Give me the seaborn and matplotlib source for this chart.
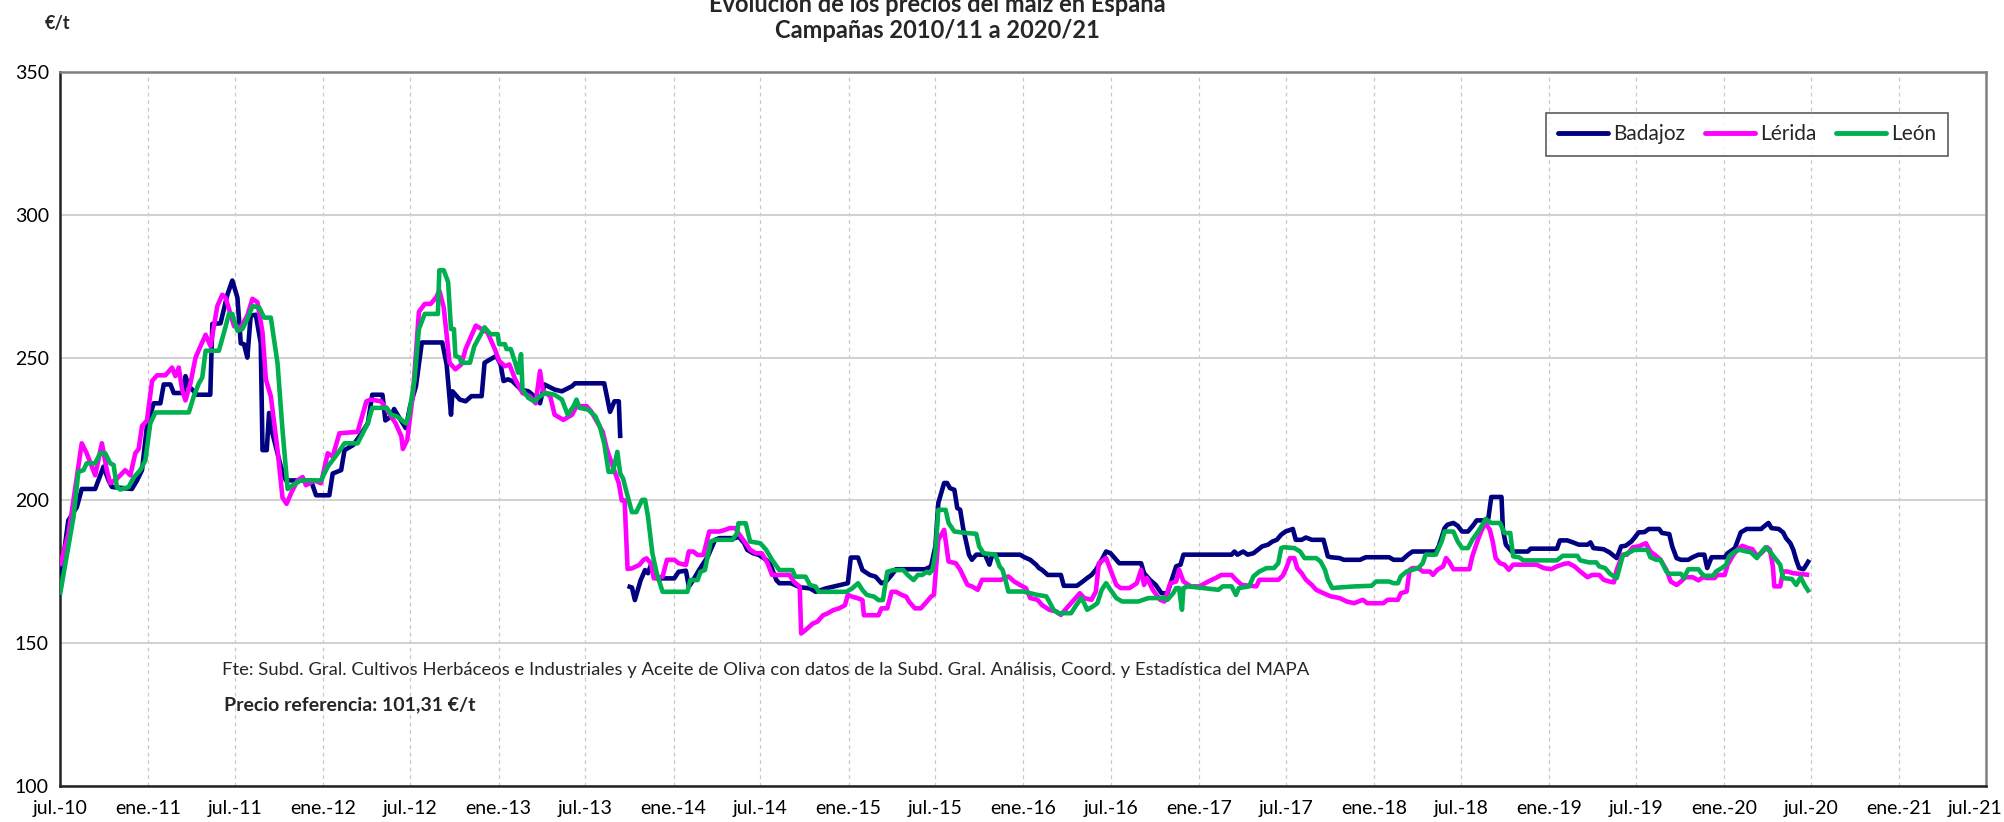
import numpy as np
import pandas as pd
import matplotlib
matplotlib.use("Agg")
import matplotlib.pyplot as plt
import matplotlib.transforms as mtransforms
import seaborn as sns

# ── DATOS ─────────────────────────────────────────────────────────────────────
# meses transcurridos desde jul.-2010 y precio en €/t; NaN = hueco en la serie
BADAJOZ_MES = [
    0.0, 0.23, 0.57, 1.15, 1.49, 2.41, 2.98, 3.33, 3.56, 4.93, 5.28, 5.62, 5.96, 6.42, 6.88,
    7.11, 7.57, 7.8, 8.49, 8.6, 8.83, 9.4, 10.3, 10.44, 11.0, 11.47, 11.81, 12.16, 12.39,
    12.61, 12.84, 13.07, 13.42, 13.76, 13.88, 14.17, 14.33, 14.56, 15.14, 15.48, 17.2, 17.55,
    18.46, 18.69, 19.27, 19.5, 20.1, 20.6, 21.1, 21.4, 22.1, 22.3, 22.7, 22.9, 23.2, 23.7,
    24.0, 24.4, 24.8, 26.2, 26.5, 26.8, 26.9, 27.4, 27.8, 28.2, 28.9, 29.1, 29.5, 29.9, 30.2,
    30.4, 30.7, 31.0, 31.6, 32.1, 32.5, 32.9, 33.2, 33.9, 34.4, 35.1, 35.3, 37.3, 37.7, 38.0,
    38.3, 38.4, 38.6, 38.9, 39.2, 39.4, 39.8, 40.1, 40.3, 40.5, 40.9, 42.1, 42.4, 42.9, 43.1,
    43.4, 43.8, 44.1, 44.4, 44.6, 44.9, 45.2, 46.3, 46.5, 46.9, 47.1, 47.5, 47.9, 48.4, 48.7,
    49.1, 49.3, 50.1, 50.7, 51.4, 51.8, 52.5, 53.0, 53.5, 54.0, 54.2, 54.7, 55.0, 55.5, 55.9,
    56.3, 56.6, 57.0, 57.3, 59.3, 59.7, 60.0, 60.2, 60.6, 60.8, 61.0, 61.3, 61.5, 61.7, 61.9,
    62.3, 62.5, 62.8, 63.4, 63.7, 63.9, 65.8, 66.1, 66.5, 66.9, 67.1, 67.3, 67.7, 68.6, 68.8,
    69.7, 70.1, 70.4, 70.7, 71.0, 71.4, 71.7, 72.0, 72.4, 72.6, 74.1, 74.3, 74.7, 75.1, 75.5,
    75.9, 76.2, 76.5, 76.8, 77.0, 80.3, 80.5, 80.7, 81.1, 81.4, 81.8, 82.1, 82.4, 82.8, 83.1,
    83.4, 83.7, 84.0, 84.5, 84.7, 85.1, 85.4, 85.8, 86.6, 86.9, 87.1, 87.7, 88.0, 89.1, 89.5,
    91.1, 91.4, 92.0, 92.4, 92.7, 94.3, 94.5, 94.9, 95.1, 95.5, 95.8, 96.1, 96.5, 96.8, 97.1,
    97.6, 97.9, 98.1, 98.8, 98.9, 99.1, 99.5, 100.6, 100.8, 102.6, 102.8, 103.3, 103.7, 104.1,
    104.7, 104.9, 105.1, 105.8, 106.2, 106.5, 106.7, 107.0, 107.3, 107.7, 107.9, 108.2, 108.6,
    108.9, 109.6, 109.8, 110.3, 110.5, 110.8, 111.1, 111.6, 111.9, 112.3, 112.7, 112.9, 113.2,
    114.1, 114.3, 114.8, 115.2, 115.6, 116.6, 116.8, 117.1, 117.3, 117.8, 118.1, 118.3, 118.6,
    118.8, 119.0, 119.2, 119.5, 119.7, 119.9,
]
BADAJOZ_EUR = [
    174, 180, 193, 197.6, 204, 204, 211.8, 207, 204.7, 204, 207, 210.6, 226, 234, 234,
    240.6, 240.6, 237.6, 237.6, 243.5, 240, 237, 237, 261.8, 262, 272, 277, 271, 255,
    254.7, 250, 264.7, 265, 255, 217.6, 217.6, 230.6, 223.5, 211.8, 207, 207, 201.8,
    201.8, 209.4, 210.6, 217.6, 219.4, 223, 227, 237, 237, 228, 229.4, 232, 229.4, 225.3,
    233, 240, 255.3, 255.3, 247.6, 230, 238.2, 235.3, 234.7, 236.5, 236.5, 248.2, 249.4, 250.6, 247.6,
    241.8, 242.4, 241.8, 238.8, 238.2, 236.5, 234, 240.6, 238.8, 238.2, 240, 241, 241, 231, 234.7,
    234.7, 221.8, np.nan, 170, 169.5, 165.1, 172.1, 175.6, 174.5, 177.4, 172.7, 172.7, 175, 175.4, 169.8,
    172.1, 175.6, 178, 180.3, 182.7, 186.2, 186.8, 186.8, 187.4, 185, 182.7, 181.5, 180.9, 179.2, 177.4,
    172.1, 171, 171, 169.6, 169.2, 168, 169.2, 169.8, 170.4, 171, 180, 180, 175.6, 173.9, 173.3,
    171, 171.5, 173.9, 175.9, 175.9, 176.9, 183.9, 199.1, 206.1, 206.1, 204.3, 203.7, 197.3, 196.7, 190.3,
    181, 179.2, 181, 181, 177.5, 181, 181, 180.1, 179.2, 177.5, 176.3, 175.7, 173.9, 173.9, 170.1,
    170.1, 171.6, 172.8, 173.9, 175.7, 179.2, 182.1, 181.5, 179.2, 178, 178, 174.5, 172.2, 170.4, 167.5,
    167.5, 172.2, 176.9, 177.5, 181, 181, 182.1, 181, 182.1, 181, 181.5, 182.7, 183.9, 184.5, 185.6,
    186.2, 188, 189.1, 190, 186.2, 186.2, 187, 186.2, 186.2, 180.4, 180.1, 179.8, 179.2, 179.2, 180.1,
    180.1, 179.2, 179.2, 181, 182.1, 182.1, 183.9, 190.3, 191.5, 192.1, 191.1, 189.1, 189.1, 190.9, 193,
    193, 193.8, 201.2, 201.2, 189.7, 184.5, 182.1, 182.1, 183.1, 183.1, 186, 186, 185.3, 184.5,
    184.5, 185.3, 183.3, 182.9, 181.8, 180.6, 179.8, 183.9, 184.1, 185.6, 186.8, 188.8, 188.9,
    190, 190, 188.6, 188.2, 183.9, 179.8, 179.2, 179.2, 180.1, 181, 181, 176.3, 180.1,
    180.1, 181.5, 183.3, 188.8, 190, 190, 190.9, 192.1, 190.3, 190, 188.8, 186.8, 185,
    182.7, 179.2, 176.3, 175.9, 177.5, 179.2,
]

LERIDA_MES = [
    0.0, 0.57, 0.92, 1.49, 1.83, 2.41, 2.87, 3.21, 3.44, 3.9, 4.47, 4.82, 5.16, 5.39, 5.62,
    5.96, 6.31, 6.65, 7.22, 7.68, 7.91, 8.14, 8.37, 8.6, 8.94, 9.29, 9.63, 9.98, 10.32, 10.78,
    11.12, 11.35, 11.93, 12.39, 12.84, 13.19, 13.53, 13.88, 14.11, 14.45, 14.91, 15.25, 15.53,
    15.83, 16.28, 16.63, 16.86, 17.43, 17.89, 18.35, 18.69, 19.15, 20.4, 21.0, 21.3, 22.0,
    22.4, 23.0, 23.4, 23.5, 23.8, 24.2, 24.6, 25.0, 25.4, 25.8, 26.0, 26.3, 26.7, 27.1, 27.5,
    27.8, 28.3, 28.5, 28.9, 29.3, 29.8, 30.1, 30.5, 30.8, 31.2, 31.7, 32.2, 32.6, 32.9, 33.1,
    33.6, 33.9, 34.5, 35.1, 35.4, 36.1, 36.4, 36.8, 37.2, 37.5, 37.9, 38.3, 38.5, 38.7, 38.9,
    39.2, 39.7, 40.0, 40.2, 40.5, 40.7, 41.3, 41.6, 42.1, 42.4, 42.9, 43.1, 43.4, 43.7, 44.1,
    44.5, 45.2, 45.6, 45.9, 46.3, 46.5, 47.0, 47.3, 47.7, 48.1, 48.5, 48.8, 50.0, 50.3, 50.7,
    50.8, 51.1, 51.6, 51.9, 52.3, 52.6, 53.0, 53.4, 53.8, 54.0, 54.3, 54.7, 55.0, 55.1, 56.1,
    56.3, 56.7, 57.0, 57.3, 57.7, 58.0, 58.2, 58.6, 59.0, 59.4, 59.7, 59.9, 60.2, 60.6, 60.9,
    61.4, 61.7, 62.2, 62.5, 62.9, 63.2, 64.5, 65.0, 65.4, 65.8, 66.2, 66.5, 67.0, 67.3, 67.8,
    68.3, 68.6, 68.9, 69.4, 69.9, 70.2, 70.7, 71.0, 71.2, 71.7, 72.0, 72.4, 72.7, 73.3, 73.8,
    74.1, 74.3, 74.5, 74.9, 75.4, 75.7, 76.1, 76.5, 76.7, 77.0, 77.5, 78.1, 78.7, 79.2, 79.6,
    80.3, 80.6, 81.0, 82.0, 82.2, 83.5, 83.8, 84.0, 84.3, 84.6, 84.8, 85.1, 85.4, 85.8, 86.1,
    86.6, 87.1, 87.7, 88.2, 88.7, 89.0, 89.3, 89.6, 90.7, 91.0, 91.7, 91.9, 92.3, 92.5, 92.7,
    93.1, 93.4, 93.9, 94.1, 94.4, 94.8, 95.0, 95.2, 95.5, 96.6, 96.8, 97.1, 97.4, 97.7, 98.0,
    98.2, 98.4, 98.7, 99.0, 99.3, 99.6, 101.2, 101.7, 102.2, 102.6, 103.1, 103.4, 103.8, 104.2,
    104.7, 105.0, 105.5, 105.8, 106.2, 106.5, 106.7, 107.1, 107.4, 107.8, 108.2, 108.7, 109.0,
    109.4, 109.7, 110.1, 110.4, 110.8, 111.1, 111.4, 111.9, 112.3, 112.6, 112.9, 113.4, 113.6,
    114.1, 114.3, 114.7, 115.0, 115.3, 115.7, 116.0, 116.3, 116.6, 117.0, 117.2, 117.4, 117.5,
    117.9, 118.1, 118.4, 118.8, 119.9,
]
LERIDA_EUR = [
    177, 188, 200, 220, 216.5, 208.8, 220, 210.6, 206, 207.6, 210.6, 208.8, 216.5, 218, 226,
    228, 241.8, 243.8, 243.8, 246.5, 243.5, 246.5, 238.8, 235, 241, 250, 254, 258, 254, 268,
    272, 271, 261, 260.6, 264.7, 270.6, 269.4, 258.8, 242.4, 236.5, 217.6, 201, 198.8,
    202.4, 207, 208.2, 205.3, 207, 206, 216.5, 215.3, 223.5, 224, 234.7, 235.3, 234.7,
    231.8, 227, 222.4, 218, 221.2, 237.6, 266, 268.8, 268.8, 271.2, 273.5, 267.6, 248.2, 245.9, 247.6,
    253, 258.8, 261.2, 260, 258.8, 253, 248.8, 247, 247.6, 242.4, 237.6, 236.5, 234, 245.3, 238.2,
    236.5, 230, 228.2, 230, 233, 233, 231.2, 227.6, 224, 217.6, 211.8, 206, 200, 200, 176,
    176.2, 177.4, 179.2, 179.7, 178, 172.7, 173.3, 179.2, 179.2, 178, 177.4, 182.1, 182.1, 180.9, 180.9,
    189.1, 189.1, 189.7, 190.3, 190.3, 188.5, 185, 182.7, 181.5, 181.5, 178, 173.9, 173.9, 171.5, 169.8,
    153.4, 154.6, 156.9, 157.5, 159.8, 160.4, 161.6, 162.2, 163.3, 166.9, 166.3, 165.7, 165.1, 159.8, 159.8,
    162.2, 162.2, 168, 168, 166.9, 166.3, 164.5, 162.2, 162.2, 164.5, 166.3, 167, 186.2, 189.7, 178.6,
    178, 175.7, 170.4, 169.9, 168.7, 172.2, 172.2, 173.4, 171.6, 170.4, 169.3, 165.8, 165.2, 163.4, 161.7,
    161.1, 159.9, 161.7, 164.6, 167.5, 165.8, 165.2, 168.1, 178, 179.8, 175.7, 170.4, 169.3, 169.3, 171,
    175.7, 170.4, 172.8, 168.7, 165.2, 164.6, 171, 171.6, 175.7, 171.6, 169.9, 169.9, 171.6, 172.8, 173.9,
    173.9, 172.2, 170.4, 169.9, 172.2, 172.2, 173.6, 175.7, 179.8, 179.8, 176.3, 174.5, 172.2, 170.4, 168.7,
    167.5, 166.4, 165.8, 164.6, 164, 164.6, 165.2, 164, 164, 165.2, 165.2, 167.5, 168.1, 175.7, 176.3,
    176.3, 175.1, 175.1, 173.9, 175.7, 176.9, 179.8, 178.6, 175.9, 175.9, 180.4, 185, 189.1, 192.1, 189.7,
    185.6, 179.8, 178, 177.5, 175.7, 177.5, 177.5, 176.3, 175.9, 176.9, 177.8, 178, 176.9, 175.1,
    173.1, 173.9, 173.9, 172.2, 171.6, 171.3, 175.7, 181, 181, 183.6, 183.9, 185, 182.1,
    180.6, 179.2, 175.7, 171.6, 170.4, 171.6, 173.1, 173.1, 172, 173.1, 172.8, 172.8, 173.9,
    173.9, 177.5, 181, 182.9, 184.1, 183.3, 182.9, 180.6, 181.5, 183.6, 182.7, 176.9, 169.9,
    169.9, 175.1, 175.1, 174.5, 173.9,
]

LEON_MES = [
    0.0, 0.92, 1.26, 1.61, 1.83, 2.41, 2.75, 3.1, 3.44, 3.67, 3.9, 4.13, 4.7, 5.05, 5.5,
    5.85, 6.19, 6.54, 8.83, 9.17, 9.52, 9.75, 9.98, 10.89, 11.24, 11.58, 11.81, 12.16, 12.5,
    12.84, 13.19, 13.65, 13.99, 14.45, 14.91, 15.25, 15.6, 15.94, 16.51, 17.89, 18.35, 19.04,
    19.5, 20.4, 20.8, 21.1, 21.4, 22.4, 22.7, 23.1, 23.7, 23.9, 24.3, 24.6, 25.0, 25.9, 26.0,
    26.3, 26.6, 26.8, 27.0, 27.1, 27.4, 27.5, 28.1, 28.4, 28.6, 29.1, 29.3, 29.5, 30.0, 30.1,
    30.5, 30.6, 30.9, 31.2, 31.4, 31.6, 31.7, 32.1, 32.5, 32.9, 33.3, 33.9, 34.4, 34.8, 35.2,
    35.4, 35.6, 36.2, 36.7, 37.0, 37.3, 37.6, 37.9, 38.2, 38.4, 38.6, 38.8, 39.2, 39.5, 39.9,
    40.1, 40.3, 40.6, 40.9, 41.3, 43.0, 43.2, 43.7, 43.9, 44.2, 44.6, 44.9, 46.1, 46.4, 46.5,
    47.0, 47.3, 48.0, 48.4, 48.8, 49.3, 50.2, 50.4, 51.1, 51.4, 51.8, 52.0, 53.9, 54.3, 54.7,
    55.0, 55.3, 55.8, 56.1, 56.4, 56.7, 57.1, 57.8, 58.1, 58.5, 58.8, 59.1, 59.4, 59.6, 59.8,
    60.0, 60.2, 60.7, 60.9, 61.3, 62.1, 62.8, 63.0, 63.3, 64.1, 64.4, 64.6, 64.8, 65.0, 66.0,
    67.0, 67.6, 67.8, 68.1, 68.4, 69.3, 69.6, 70.0, 70.2, 70.4, 70.8, 71.1, 71.4, 71.7, 72.0,
    72.4, 72.8, 73.9, 74.6, 75.7, 75.9, 76.3, 76.5, 76.7, 76.9, 77.0, 77.3, 79.4, 79.7, 80.3,
    80.6, 80.8, 81.5, 81.8, 82.2, 82.7, 83.2, 83.5, 83.7, 83.9, 84.6, 85.0, 85.3, 86.1, 86.4,
    86.7, 86.9, 87.2, 87.9, 88.8, 89.9, 90.2, 91.1, 91.4, 91.7, 91.9, 92.3, 92.7, 93.1, 93.4,
    93.6, 94.3, 94.7, 94.9, 95.5, 95.8, 96.1, 96.5, 96.8, 97.2, 97.5, 97.7, 98.1, 98.7, 99.0,
    99.4, 99.6, 100.0, 100.3, 102.6, 103.0, 104.0, 104.2, 104.8, 105.3, 105.5, 105.9, 106.2,
    106.5, 106.7, 107.1, 107.2, 107.7, 107.9, 108.8, 109.0, 109.4, 109.7, 110.1, 110.3, 111.1,
    111.3, 111.6, 112.3, 112.5, 112.7, 113.3, 113.5, 113.9, 114.2, 114.4, 114.8, 115.1, 115.6,
    115.9, 116.3, 116.6, 116.9, 117.2, 117.5, 117.9, 118.1, 118.7, 119.0, 119.3, 119.6, 119.9,
]
LEON_EUR = [
    167, 194, 210, 210.6, 213, 213, 216.5, 216.5, 213, 212.4, 204.7, 203.8, 204.7, 208, 210.6,
    214, 227, 230.8, 230.8, 236.5, 241, 243, 252.4, 252.4, 258.8, 265.3, 265.3, 259.4, 260,
    263.5, 268, 267.6, 264, 264, 248, 224.7, 204, 205.3, 207, 207, 211.8, 216.5,
    220, 220, 224, 227, 232.4, 232.4, 230, 229.4, 227, 229.4, 242.4, 260, 265.3, 265.3, 280.6,
    280.6, 276.5, 260, 260, 250.6, 250, 248.2, 248.2, 254, 255.9, 260.6, 259.4, 258.2, 258.2, 254.7,
    254.7, 253, 253, 248.2, 244.7, 251.2, 238.8, 235.9, 234.7, 236.5, 237.6, 237, 235.3, 230, 233,
    235.3, 232.4, 231.8, 229.4, 225.9, 220, 210, 210, 217, 209.4, 207.6, 203.5, 195.9, 195.9, 200.2,
    200.2, 194.4, 181.5, 174.5, 168, 168, 172.1, 172.1, 175, 175.6, 185.6, 186.2, 186.2, 188.5, 192,
    192, 185.6, 185, 182.7, 179.2, 175.6, 175.6, 173.3, 173.3, 170.4, 169.8, 168, 168, 169.2, 171,
    168.6, 166.9, 166.3, 165.1, 165.1, 175, 175.6, 175.6, 173.9, 172.1, 173.9, 173.9, 175, 174.5, 175.7,
    181.5, 196.7, 196.7, 192.1, 189.1, 188.6, 188.3, 183.9, 181.5, 181, 176.9, 175.7, 172.2, 168.1, 168.1,
    166.9, 166.4, 164.6, 161.7, 160.5, 160.5, 162.9, 165.8, 164, 161.7, 162.9, 164, 168.7, 171, 168.7,
    165.8, 164.6, 164.6, 165.8, 165.8, 165.2, 167.5, 169.3, 169.3, 161.7, 169.3, 169.9, 168.7, 169.9, 169.9,
    166.9, 169.3, 169.9, 173.4, 175.1, 176.3, 176.3, 178, 183.3, 183.6, 183.3, 182.1, 179.8, 179.8, 178.6,
    175.7, 172.2, 169.3, 169.6, 169.9, 170.1, 171.6, 171.6, 171, 171, 173.4, 175.1, 175.7, 176.3, 178,
    181, 181, 185.6, 189.1, 189.1, 185.6, 183.3, 183.3, 186.2, 189.1, 191.5, 193.5, 192.1, 192.1, 188.6,
    188.6, 180.4, 180.1, 179, 179, 180.6, 180.6, 179, 178.3, 178.3, 176.9, 176.3, 174.5,
    173.4, 172.8, 180.4, 181, 182.1, 182.7, 182.7, 180.1, 179.2, 179.2, 175.1, 174.3, 174.3,
    172.8, 175.9, 175.9, 174.5, 173.6, 173.6, 175.1, 176.3, 177.5, 180.4, 182.1, 182.7, 182.1,
    181.8, 179.8, 181.8, 183.6, 182.1, 180.1, 177.5, 172.8, 172.5, 170.4, 173.1, 170.1, 167.8,
]

SERIES = ["Badajoz", "Lérida", "León"]
COLORES = ["#000080", "#FF00FF", "#00B050"]
Y_TICKS = [100, 150, 200, 250, 300, 350]
MESES_ES = {1: "ene.", 7: "jul."}

INICIO = pd.Timestamp("2010-07-01")
FIN = pd.Timestamp("2021-07-01")


def a_fechas(meses):
    return INICIO + pd.to_timedelta(np.asarray(meses) * 30.4375, unit="D")


def meter_en_figura(fig, etiqueta, margen=2):
    """Desplaza una etiqueta de eje para que no se salga por los lados."""
    r = fig.canvas.get_renderer()
    bb = etiqueta.get_window_extent(r)
    ancho = fig.bbox.width
    dx = 0
    if bb.x1 > ancho - margen:
        dx = (ancho - margen) - bb.x1
    elif bb.x0 < margen:
        dx = margen - bb.x0
    if dx:
        etiqueta.set_transform(etiqueta.get_transform() +
                               mtransforms.ScaledTranslation(dx / fig.dpi, 0, fig.dpi_scale_trans))


def main():
    sns.set_theme(style="white")
    plt.rcParams["font.family"] = ["Lato", "DejaVu Sans"]

    fig = plt.figure(figsize=(20.04, 8.22), dpi=100)
    ax = fig.add_axes([60 / 2004, 1 - 786 / 822, 1926 / 2004, 714 / 822])

    datos = {
        "Badajoz": (BADAJOZ_MES, BADAJOZ_EUR),
        "Lérida": (LERIDA_MES, LERIDA_EUR),
        "León": (LEON_MES, LEON_EUR),
    }

    # ── LÍNEAS ── (los NaN cortan la serie en tramos)
    for nombre, color in zip(SERIES, COLORES):
        meses, eur = datos[nombre]
        df = pd.DataFrame({"fecha": a_fechas(meses), "eur": eur})
        df["tramo"] = df["eur"].isna().cumsum()
        df = df.dropna()
        for i, (_, tramo) in enumerate(df.groupby("tramo")):
            sns.lineplot(data=tramo, x="fecha", y="eur", color=color, lw=3.3,
                         label=nombre if i == 0 else "_nolegend_", ax=ax,
                         legend=False, zorder=3, solid_capstyle="butt")

    # ── EJES ──
    ticks_x = pd.date_range(INICIO, FIN, freq="6MS")
    ax.set_xlim(INICIO, FIN)
    ax.set_xticks(ticks_x)
    ax.set_xticklabels([f"{MESES_ES[d.month]}-{d.year % 100:02d}" for d in ticks_x])
    ax.set_ylim(100, 350)
    ax.set_yticks(Y_TICKS)
    ax.set_xlabel("")
    ax.set_ylabel("")

    ax.yaxis.grid(True, color="#d0d0d0", lw=1.4, zorder=0)
    ax.xaxis.grid(True, color="#c8c8c8", lw=0.9, linestyle=(0, (3, 3)), zorder=0)

    for lado in ["left", "bottom"]:
        ax.spines[lado].set_color("#222222")
        ax.spines[lado].set_linewidth(1.8)
    for lado in ["top", "right"]:
        ax.spines[lado].set_color("#808080")
        ax.spines[lado].set_linewidth(1.8)
    ax.tick_params(axis="both", direction="out", length=5, width=1.5,
                   color="#222222", labelsize=14, labelcolor="black")
    ax.tick_params(axis="y", pad=3)
    ax.tick_params(axis="x", pad=5)

    # ── LEYENDA ──
    leg = ax.legend(loc="upper right", bbox_to_anchor=(0.9803, 0.9426), ncol=3,
                    frameon=True, fancybox=False, fontsize=15, borderaxespad=0,
                    handlelength=2.4, handletextpad=0.25, columnspacing=0.95,
                    borderpad=0.55)
    leg.get_frame().set_edgecolor("#333333")
    leg.get_frame().set_linewidth(1.2)
    for linea in leg.get_lines():
        linea.set_linewidth(3.5)
        linea.set_solid_capstyle("round")

    # ── TEXTOS ──
    fig.text(937 / 2004, 1 - 4 / 822, "Evolución de los precios del maíz en España",
             ha="center", va="center", fontsize=17, fontweight="bold")
    fig.text(937 / 2004, 1 - 30 / 822, "Campañas 2010/11 a 2020/21",
             ha="center", va="center", fontsize=17, fontweight="bold")
    fig.text(58 / 2004, 1 - 23 / 822, "€/t", ha="center", va="center",
             fontsize=13, fontweight="bold")
    fig.text(222 / 2004, 1 - 670 / 822,
             "Fte: Subd. Gral. Cultivos Herbáceos e Industriales y Aceite de Oliva con datos "
             "de la Subd. Gral. Análisis, Coord. y Estadística del MAPA",
             ha="left", va="center", fontsize=13.3)
    fig.text(224 / 2004, 1 - 705 / 822, "Precio referencia: 101,31 €/t",
             ha="left", va="center", fontsize=14, fontweight="bold")

    # las etiquetas extremas del eje x quedan dentro de la figura
    fig.canvas.draw()
    etiquetas = ax.get_xticklabels()
    meter_en_figura(fig, etiquetas[0])
    meter_en_figura(fig, etiquetas[-1])

    fig.savefig("out.png", dpi=100)
    plt.close(fig)


if __name__ == "__main__":
    main()
